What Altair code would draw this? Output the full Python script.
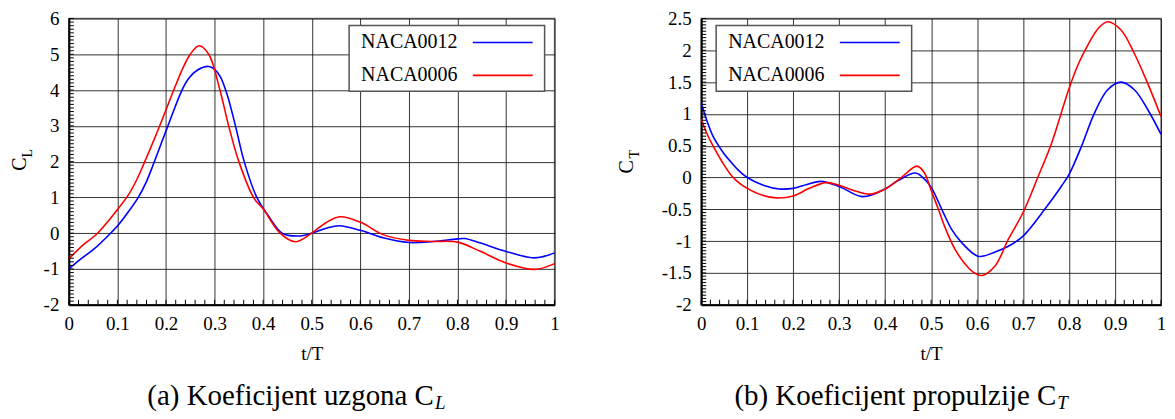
import altair as alt
import numpy as np
import pandas as pd

FONT = "Liberation Serif"
SERIES = ["NACA0012", "NACA0006"]
COLORS = ["#0000ff", "#ff0000"]

# ---------- (a) lift coefficient C_L ----------
cl_t_0012 = [0, 0.025, 0.052, 0.086, 0.1, 0.12, 0.143, 0.16, 0.175, 0.204, 0.233, 0.247,
             0.265, 0.288, 0.3, 0.312, 0.326, 0.343, 0.361, 0.387, 0.41, 0.439, 0.473,
             0.5, 0.53, 0.557, 0.6, 0.647, 0.7, 0.75, 0.8, 0.815, 0.846, 0.9, 0.959, 1.0]
cl_v_0012 = [-1.0, -0.72, -0.44, 0.0, 0.2, 0.55, 1.0, 1.45, 1.96, 3.0, 4.0, 4.33,
             4.56, 4.66, 4.58, 4.37, 3.87, 3.0, 2.0, 1.0, 0.5, 0.0, -0.08,
             0.0, 0.14, 0.21, 0.08, -0.13, -0.26, -0.23, -0.16, -0.15, -0.27, -0.51, -0.69, -0.55]
cl_t_0006 = [0, 0.025, 0.059, 0.1, 0.124, 0.14, 0.155, 0.175, 0.19, 0.216, 0.235, 0.25,
             0.268, 0.288, 0.311, 0.329, 0.35, 0.381, 0.4, 0.435, 0.466, 0.5, 0.53, 0.558,
             0.6, 0.647, 0.7, 0.75, 0.8, 0.846, 0.9, 0.959, 1.0]
cl_v_0006 = [-0.72, -0.38, 0.0, 0.66, 1.1, 1.5, 1.96, 2.6, 3.1, 4.0, 4.62, 5.0,
             5.24, 5.0, 4.0, 3.0, 2.0, 0.98, 0.68, 0.0, -0.24, 0.0, 0.3, 0.46,
             0.31, -0.04, -0.2, -0.23, -0.25, -0.5, -0.83, -1.01, -0.85]

# ---------- (b) thrust coefficient C_T ----------
ct_t_0012 = [0, 0.013, 0.025, 0.036, 0.05, 0.064, 0.08, 0.1, 0.135, 0.17, 0.2, 0.23,
             0.26, 0.3, 0.351, 0.4, 0.43, 0.466, 0.485, 0.5, 0.527, 0.545, 0.566, 0.603,
             0.639, 0.668, 0.7, 0.747, 0.783, 0.8, 0.827, 0.855, 0.884, 0.913, 0.942,
             0.971, 1.0]
ct_v_0012 = [1.17, 0.88, 0.66, 0.52, 0.37, 0.25, 0.12, 0.0, -0.12, -0.18, -0.17, -0.11,
             -0.06, -0.14, -0.30, -0.18, -0.04, 0.07, -0.02, -0.15, -0.56, -0.82, -1.02, -1.24,
             -1.17, -1.08, -0.92, -0.5, -0.14, 0.05, 0.49, 1.01, 1.38, 1.50, 1.38,
             1.07, 0.68]
ct_t_0006 = [0, 0.013, 0.024, 0.046, 0.067, 0.085, 0.1, 0.13, 0.163, 0.2, 0.235, 0.271,
             0.3, 0.33, 0.369, 0.4, 0.435, 0.469, 0.485, 0.5, 0.516, 0.53, 0.552, 0.574,
             0.59, 0.61, 0.639, 0.668, 0.7, 0.733, 0.762, 0.8, 0.82, 0.84, 0.863, 0.884,
             0.913, 0.942, 0.971, 1.0]
ct_v_0006 = [0.92, 0.68, 0.52, 0.24, 0.02, -0.1, -0.17, -0.27, -0.32, -0.29, -0.17, -0.08,
             -0.12, -0.2, -0.26, -0.18, 0.0, 0.18, 0.08, -0.2, -0.5, -0.78, -1.13, -1.36,
             -1.48, -1.54, -1.39, -0.97, -0.55, 0.02, 0.54, 1.4, 1.78, 2.07, 2.34, 2.45,
             2.32, 1.95, 1.48, 0.96]

x_ticks = [0, 0.1, 0.2, 0.3, 0.4, 0.5, 0.6, 0.7, 0.8, 0.9, 1]
cl_ticks = [-2, -1, 0, 1, 2, 3, 4, 5, 6]
ct_ticks = [-2, -1.5, -1, -0.5, 0, 0.5, 1, 1.5, 2, 2.5]

H = 287
GRID = "#111111"


def panel(tA, vA, tB, vB, ydom, yticks, ystep_minor, W, legx, ysub, ypos,
          cap_main, cap_sub, cap_x, anchor):
    rows = [{"t": t, "v": v, "s": SERIES[0]} for t, v in zip(tA, vA)]
    rows += [{"t": t, "v": v, "s": SERIES[1]} for t, v in zip(tB, vB)]
    df = pd.DataFrame(rows)

    xaxis = alt.Axis(values=x_ticks, labelExpr="'' + datum.value", title="t/T",
                     grid=True, gridColor=GRID, gridOpacity=0.85, gridWidth=1,
                     ticks=False, domainColor="black", domainWidth=2,
                     labelFont=FONT, labelFontSize=19, labelColor="black",
                     labelPadding=10, labelFlush=False, labelOverlap=False,
                     titleFont=FONT, titleFontSize=19, titleFontWeight="normal",
                     titleColor="black", titlePadding=11)
    yaxis = alt.Axis(values=yticks, labelExpr="'' + datum.value", title=None,
                     grid=True, gridColor=GRID, gridOpacity=0.85, gridWidth=1,
                     ticks=False, domainColor="black", domainWidth=2,
                     labelFont=FONT, labelFontSize=19, labelColor="black",
                     labelPadding=10, labelFlush=False, labelOverlap=False)
    X = alt.X("t:Q", scale=alt.Scale(domain=[0, 1], nice=False, zero=False), axis=xaxis)
    Y = alt.Y("v:Q", scale=alt.Scale(domain=ydom, nice=False, zero=False), axis=yaxis)

    lines = alt.Chart(df).mark_line(strokeWidth=1.6, interpolate="catmull-rom").encode(
        x=X, y=Y,
        color=alt.Color("s:N", scale=alt.Scale(domain=SERIES, range=COLORS), legend=None),
        order=alt.value(0),
    )

    xm = pd.DataFrame({"t": np.round(np.arange(0, 1.0001, 0.02), 3)})
    xminor = alt.Chart(xm).mark_rule(color="black", strokeWidth=1).encode(
        x=X, y=alt.value(H), y2=alt.value(H - 5))
    ym = pd.DataFrame({"v": np.round(np.arange(ydom[0], ydom[1] + 1e-9, ystep_minor), 3)})
    yminor = alt.Chart(ym).mark_rule(color="black", strokeWidth=1).encode(
        y=Y, x=alt.value(0), x2=alt.value(5))

    one = pd.DataFrame({"k": [0]})
    box = alt.Chart(one).mark_rect(fill="white", stroke="#555555", strokeWidth=1.5).encode(
        x=alt.value(legx), x2=alt.value(legx + 196), y=alt.value(7), y2=alt.value(73))
    leg = [box]
    for i, (name, col) in enumerate(zip(SERIES, COLORS)):
        yy = 24 + 33 * i
        leg.append(alt.Chart(one).mark_text(text=name, font=FONT, fontSize=20, align="left",
                                             baseline="middle", color="black").encode(
            x=alt.value(legx + 12), y=alt.value(yy)))
        leg.append(alt.Chart(one).mark_rule(color=col, strokeWidth=1.6).encode(
            x=alt.value(legx + 124), x2=alt.value(legx + 184), y=alt.value(yy)))

    cx, cy, sx, sy = ypos
    ytitle = [
        alt.Chart(one).mark_text(text="C", font=FONT, fontSize=20, angle=270, align="center",
                                 baseline="middle", color="black").encode(
            x=alt.value(cx), y=alt.value(cy)),
        alt.Chart(one).mark_text(text=ysub, font=FONT, fontSize=14, angle=270, align="center",
                                 baseline="middle", color="black").encode(
            x=alt.value(sx), y=alt.value(sy)),
    ]
    caption = [
        alt.Chart(one).mark_text(text=cap_main, font=FONT, fontSize=29, align="right",
                                 baseline="alphabetic", color="black").encode(
            x=alt.value(cap_x), y=alt.value(387)),
        alt.Chart(one).mark_text(text=cap_sub, font=FONT, fontSize=19, fontStyle="italic",
                                 align="left", baseline="alphabetic", color="black").encode(
            x=alt.value(cap_x + 1), y=alt.value(392)),
    ]
    layers = [lines, xminor, yminor] + leg + ytitle + caption
    if anchor:
        layers.append(alt.Chart(one).mark_rule(opacity=0, strokeWidth=1).encode(
            x=alt.value(-60), x2=alt.value(-59), y=alt.value(100)))
    return alt.layer(*layers).properties(width=W, height=H)


left = panel(cl_t_0012, cl_v_0012, cl_t_0006, cl_v_0006, [-2, 6], cl_ticks, 0.1, 487,
             281, "L", (-49, 146, -40.5, 135), "(a) Koeficijent uzgona C", "L", 366, True)
right = panel(ct_t_0012, ct_v_0012, ct_t_0006, ct_v_0006, [-2, 2.5], ct_ticks, 0.05, 461,
              15, "T", (-74.6, 148.7, -66, 136), "(b) Koeficijent propulzije C", "T", 356, False)

chart = alt.hconcat(left, right, spacing=147, bounds="flush").properties(
    padding={"left": 0, "top": 0, "right": 0, "bottom": 0}
).configure_view(stroke="#777777", strokeWidth=1.5)

chart.save("out.html", embed_options={"renderer": "svg", "actions": False})
